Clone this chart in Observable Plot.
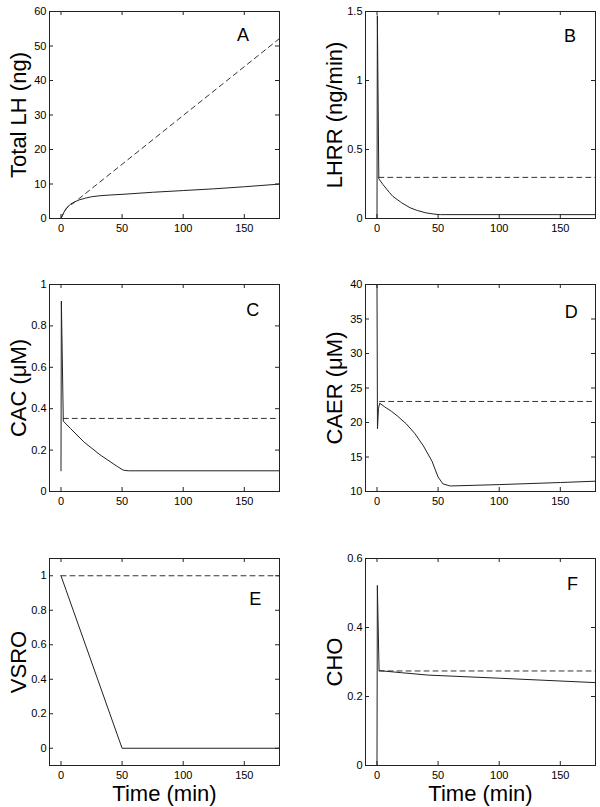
<!DOCTYPE html>
<html>
<head>
<meta charset="utf-8">
<script src="https://cdn.jsdelivr.net/npm/d3@7"></script>
<script src="https://cdn.jsdelivr.net/npm/@observablehq/plot@0.6"></script>
<style>
  body { margin: 0; background: #fff; }
  #fig { position: relative; width: 600px; height: 807px; background: #fff; }
  #fig svg { position: absolute; }
</style>
</head>
<body>
<div id="fig"></div>
<script>
// ---- shared ----
const xTicks = [0, 50, 100, 150];
const xDomain = [-9.4, 178.8];

// ---- Panel A: Total LH (ng) ----
const tA_sol  = [0, 1, 3, 5, 8, 11, 15, 20, 25, 32, 40, 50, 75, 100, 125, 150, 180];
const vA_sol  = [0, 0.8, 2.2, 3.2, 4.2, 4.8, 5.4, 5.9, 6.3, 6.6, 6.8, 7.0, 7.6, 8.1, 8.6, 9.2, 10.0];
const tA_dash = [0, 1, 3, 5, 8, 10, 180];
const vA_dash = [0, 0.8, 2.2, 3.2, 4.0, 4.4, 52.5];
const yTicksA = [0, 10, 20, 30, 40, 50, 60];

// ---- Panel B: LHRR (ng/min) ----
const tB_sol  = [0, 0.3, 1.5, 5, 10, 13, 20, 27, 33, 40, 45, 50, 52, 180];
const vB_sol  = [0, 1.47, 0.288, 0.245, 0.19, 0.16, 0.115, 0.078, 0.058, 0.041, 0.034, 0.029, 0.028, 0.028];
const tB_dash = [1.5, 180];
const vB_dash = [0.298, 0.298];
const yTicksB = [0, 0.5, 1, 1.5];

// ---- Panel C: CAC (uM) ----
const tC_sol  = [0, 0.3, 1.9, 8, 19, 32, 46, 51, 55, 180];
const vC_sol  = [0.1, 0.92, 0.34, 0.303, 0.238, 0.177, 0.121, 0.103, 0.1, 0.1];
const tC_dash = [1.9, 180];
const vC_dash = [0.353, 0.353];
const yTicksC = [0, 0.2, 0.4, 0.6, 0.8, 1];

// ---- Panel D: CAER (uM) ----
const tD_sol  = [0, 0.4, 1.2, 2.2, 6, 12, 17, 24, 31, 38, 45, 50, 54, 60, 100, 150, 180];
const vD_sol  = [40, 19.1, 22.0, 22.8, 22.3, 21.6, 20.9, 19.8, 18.4, 16.6, 14.4, 12.1, 11.1, 10.8, 11.0, 11.3, 11.5];
const tD_dash = [2.2, 180];
const vD_dash = [23.05, 23.05];
const yTicksD = [10, 15, 20, 25, 30, 35, 40];

// ---- Panel E: VSRO ----
const tE_sol  = [0, 50, 180];
const vE_sol  = [1, 0, 0];
const tE_dash = [0, 180];
const vE_dash = [1, 1];
const yTicksE = [0, 0.2, 0.4, 0.6, 0.8, 1];

// ---- Panel F: CHO ----
const tF_sol  = [0, 0.3, 1.7, 20, 42, 100, 180];
const vF_sol  = [0, 0.522, 0.275, 0.269, 0.262, 0.253, 0.24];
const tF_dash = [1.7, 180];
const vF_dash = [0.274, 0.274];
const yTicksF = [0, 0.2, 0.4, 0.6];

const panels = [
  {left: 0,   top: 0,   yDomain: [0, 60],     yTicks: yTicksA, yLabel: "Total LH (ng)", letter: "A", lx: 149, ly: 53,
   sol: [tA_sol, vA_sol], dash: [tA_dash, vA_dash]},
  {left: 300, top: 0,   yDomain: [0, 1.5],    yTicks: yTicksB, yLabel: "LHRR (ng/min)", letter: "B", lx: 158, ly: 1.32,
   sol: [tB_sol, vB_sol], dash: [tB_dash, vB_dash]},
  {left: 0,   top: 273, yDomain: [0, 1],      yTicks: yTicksC, yLabel: "CAC (\u03BCM)", letter: "C", lx: 157, ly: 0.878,
   sol: [tC_sol, vC_sol], dash: [tC_dash, vC_dash]},
  {left: 300, top: 273, yDomain: [10, 40],    yTicks: yTicksD, yLabel: "CAER (\u03BCM)", letter: "D", lx: 159, ly: 36.0,
   sol: [tD_sol, vD_sol], dash: [tD_dash, vD_dash]},
  {left: 0,   top: 547, yDomain: [-0.1, 1.1], yTicks: yTicksE, yLabel: "VSRO", letter: "E", lx: 159, ly: 0.866,
   sol: [tE_sol, vE_sol], dash: [tE_dash, vE_dash], xLabel: "Time (min)"},
  {left: 300, top: 547, yDomain: [0, 0.6],    yTicks: yTicksF, yLabel: "CHO", letter: "F", lx: 160, ly: 0.526,
   sol: [tF_sol, vF_sol], dash: [tF_dash, vF_dash], xLabel: "Time (min)"}
];

const FONT = "'Liberation Sans', Arial, Helvetica, sans-serif";
const fig = document.getElementById("fig");

for (const p of panels) {
  const isLeft = p.left === 0;
  const W = 300, H = 260, mt = 11, mb = 42;
  const ml = isLeft ? 49 : 65, mr = isLeft ? 21 : 5;
  const fw = W - ml - mr, fh = H - mt - mb;
  const solData = d3.zip(p.sol[0], p.sol[1]);
  const dashData = d3.zip(p.dash[0], p.dash[1]);
  const marks = [
    // inward ticks on all four sides
    Plot.ruleX(xTicks, {x: d => d, insetTop: fh - 4, stroke: "#222"}),
    Plot.ruleX(xTicks, {x: d => d, insetBottom: fh - 4, stroke: "#222"}),
    Plot.ruleY(p.yTicks, {y: d => d, insetRight: fw - 4, stroke: "#222"}),
    Plot.ruleY(p.yTicks, {y: d => d, insetLeft: fw - 4, stroke: "#222"}),
    Plot.axisX({ticks: xTicks, tickSize: 0, tickPadding: 6, tickFormat: d => String(d), label: null}),
    Plot.axisY({ticks: p.yTicks, tickSize: 0, tickPadding: 3, tickFormat: d => String(d), label: null}),
    Plot.line(dashData, {x: d => d[0], y: d => d[1], stroke: "#333", strokeWidth: 1, strokeDasharray: "5,4", clip: true}),
    Plot.line(solData, {x: d => d[0], y: d => d[1], stroke: "#222", strokeWidth: 1, clip: true}),
    Plot.frame({stroke: "#222"}),
    Plot.text([p.yLabel], {text: d => d, frameAnchor: "left", textAnchor: "middle", lineAnchor: "middle", dx: -31, rotate: -90, fontSize: 22, fill: "black"}),
    Plot.text([p.letter], {text: d => d, x: () => p.lx, y: () => p.ly, fontSize: 18, fill: "black"})
  ];
  if (p.xLabel) {
    marks.push(Plot.text([p.xLabel], {text: d => d, frameAnchor: "bottom", textAnchor: "middle", lineAnchor: "middle", dy: 28, fontSize: 22, fill: "black"}));
  }
  const svg = Plot.plot({
    width: W, height: H,
    marginLeft: ml, marginRight: mr, marginTop: mt, marginBottom: mb,
    x: {domain: xDomain, label: null},
    y: {domain: p.yDomain, label: null},
    style: {fontFamily: FONT, fontSize: "11px", color: "black", background: "transparent", overflow: "visible"},
    marks
  });
  svg.style.left = p.left + "px";
  svg.style.top = p.top + "px";
  fig.appendChild(svg);
}
</script>
</body>
</html>
